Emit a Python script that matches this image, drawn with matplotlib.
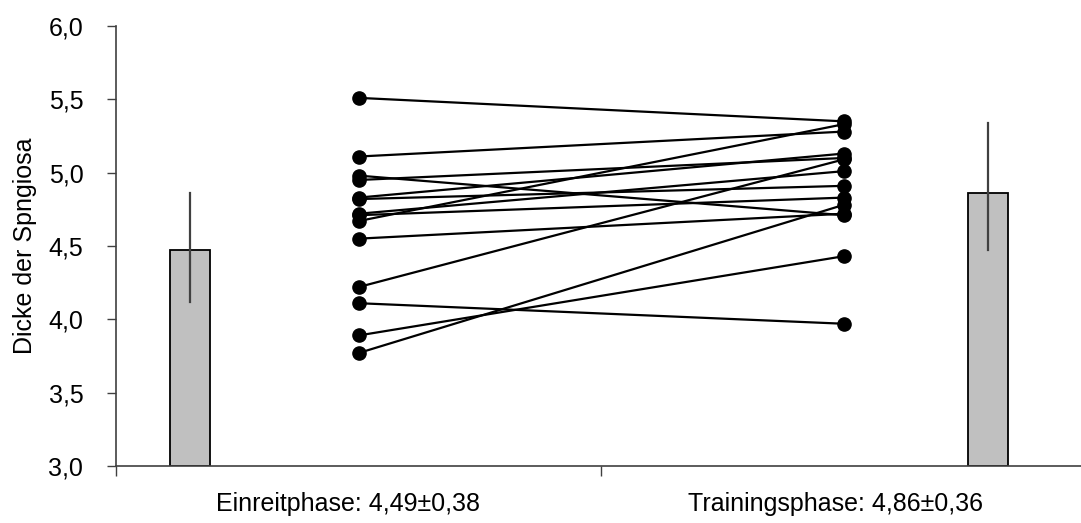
import matplotlib
matplotlib.use("Agg")
import matplotlib.pyplot as plt
import numpy as np

plt.rcParams['font.family'] = ['Liberation Sans', 'DejaVu Sans']

# Data
categories = ["Einreitphase: 4,49±0,38", "Trainingsphase: 4,86±0,36"]
bar_values = [4.47, 4.86]
err_low = [4.12, 4.47]
err_high = [4.86, 5.34]

einreit = [5.51, 5.11, 4.98, 4.95, 4.83, 4.82, 4.72, 4.71, 4.67, 4.55, 4.22, 4.11, 3.89, 3.77]
training = [5.35, 5.28, 4.71, 5.10, 5.13, 4.91, 5.01, 4.83, 5.33, 4.72, 5.09, 3.97, 4.43, 4.78]

W, H = 1081, 523
fig = plt.figure(figsize=(W / 100, H / 100), dpi=100)
ax = fig.add_axes([116 / W, 1 - 466 / H, (1086 - 116) / W, 440 / H])

bar_x = [0.153, 1.798]
bar_w = 0.082
ax.bar(bar_x, [v - 3.0 for v in bar_values], bottom=3.0, width=bar_w,
       color='#C0C0C0', edgecolor='black', linewidth=1.3, zorder=2)
for x, lo, hi in zip(bar_x, err_low, err_high):
    ax.plot([x, x], [lo, hi], color='#404040', linewidth=1.6, zorder=3)

pt_x = [0.5, 1.5]
for a, b in zip(einreit, training):
    ax.plot(pt_x, [a, b], color='black', linewidth=1.6, marker='o',
            markersize=9.5, markerfacecolor='black', markeredgecolor='black', zorder=4)

ax.set_xlim(0, 2)
ax.set_ylim(3.0, 6.0)
ax.set_yticks(np.arange(3.0, 6.01, 0.5))
ax.set_yticklabels([f"{v:.1f}".replace('.', ',') for v in np.arange(3.0, 6.01, 0.5)])
ax.set_xticks([0, 1, 2])
ax.set_xticklabels(['', '', ''])
ax.set_xticks([0.478, 1.483], minor=True)
ax.set_xticklabels(categories, minor=True)
ax.tick_params(axis='x', which='minor', length=0, pad=19, labelsize=18)
ax.tick_params(axis='x', which='major', length=7, width=1, color='#404040')
ax.tick_params(axis='y', length=6.5, width=1, color='#404040', labelsize=18, pad=17)

for s in ['top', 'right']:
    ax.spines[s].set_visible(False)
for s in ['left', 'bottom']:
    ax.spines[s].set_color('#404040')
    ax.spines[s].set_linewidth(1.2)

ax.set_ylabel("Dicke der Spngiosa", fontsize=18, labelpad=8)

fig.savefig("out.png", dpi=100)
